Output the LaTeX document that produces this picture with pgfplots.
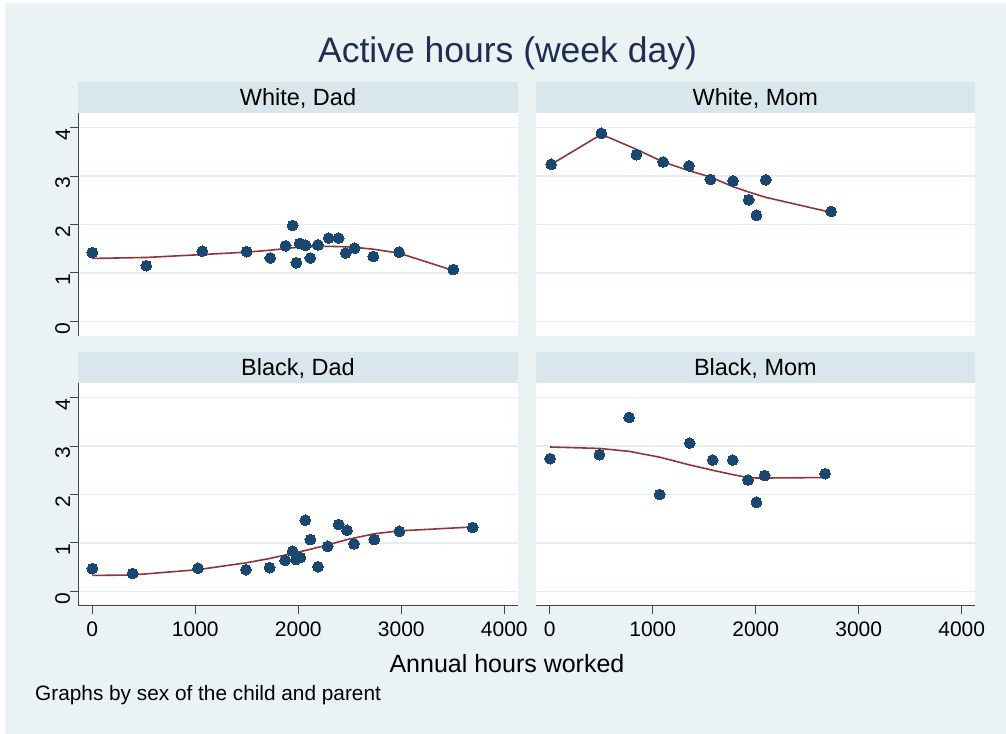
\documentclass[border=0pt]{standalone}
\usepackage{pgfplots}
\pgfplotsset{compat=1.18}
\usepackage{fontspec}
\setmainfont{Liberation Sans}
\definecolor{bg}{HTML}{EAF2F3}
\definecolor{hdr}{HTML}{D9E6EB}
\definecolor{grd}{HTML}{E5EEF1}
\definecolor{mk}{HTML}{1A476F}
\definecolor{ln}{HTML}{90353B}
\definecolor{ttl}{HTML}{1E2D53}
\definecolor{ax}{HTML}{444444}

\pgfplotsset{
  panel/.style={
    scale only axis, width=439.4bp, height=223bp,
    anchor=south west,
    xmin=-136, xmax=4130, ymin=-0.3, ymax=4.3,
    axis background/.style={fill=white},
    xtick={0,1000,2000,3000,4000}, ytick={0,1,2,3,4},
    ymajorgrids, grid style={grd, line width=1.6bp},
    axis x line*=bottom, axis y line*=left,
    axis line style={-, ax, line width=1bp},
    tick align=outside, major tick length=8bp,
    tick style={ax, line width=1bp},
    scaled x ticks=false,
    /pgf/number format/assume math mode=true,
    /pgf/number format/set thousands separator={},
    xticklabel style={font=\fontsize{21bp}{21bp}\selectfont, text=black, inner sep=0pt, yshift=-8bp},
    yticklabel style={font=\fontsize{21bp}{21bp}\selectfont, text=black, rotate=90, anchor=south, inner sep=0pt, xshift=-7bp},
    title style={at={(0.5,1)}, anchor=south, yshift=-6pt, fill=hdr, minimum width=439.4bp,
      minimum height=30.5bp, inner sep=0pt, text height=17.4bp, text depth=1bp,
      font=\fontsize{23.5bp}{23.5bp}\selectfont},
    clip=false,
  },
  noxaxis/.style={x axis line style={draw=none}, xtick style={draw=none}, xticklabels={}},
  noyaxis/.style={y axis line style={draw=none}, ytick style={draw=none}, yticklabels={}},
  pts/.style={only marks, mark=*, mark size=5.4bp, mark options={fill=mk, draw=mk, line width=0pt}},
  fit/.style={no marks, ln, line width=1.6bp},
}

\pgfplotstableread{
x y
0 1.42
524 1.15
1068 1.45
1499 1.44
1728 1.31
1877 1.56
1945 1.98
1981 1.21
2013 1.61
2071 1.57
2117 1.31
2191 1.58
2295 1.72
2392 1.72
2460 1.41
2547 1.51
2728 1.34
2978 1.43
3505 1.07
}\wdpts
\pgfplotstableread{
x y
0 1.30
524 1.32
1068 1.38
1499 1.43
1728 1.47
1945 1.52
2117 1.54
2295 1.55
2460 1.54
2547 1.53
2728 1.49
2978 1.41
3505 1.05
}\wdfit
\pgfplotstableread{
x y
14 3.24
502 3.88
842 3.44
1101 3.29
1353 3.21
1560 2.93
1780 2.90
1932 2.51
2007 2.19
2098 2.92
2732 2.27
}\wmpts
\pgfplotstableread{
x y
14 3.24
502 3.86
842 3.55
1101 3.29
1353 3.11
1560 2.98
1780 2.78
1932 2.67
2007 2.62
2098 2.56
2732 2.25
}\wmfit
\pgfplotstableread{
x y
0 0.47
392 0.37
1026 0.48
1492 0.45
1722 0.49
1871 0.64
1945 0.83
1977 0.66
2020 0.70
2068 1.47
2117 1.07
2191 0.51
2285 0.93
2392 1.38
2473 1.26
2541 0.98
2738 1.07
2981 1.24
3693 1.32
}\bdpts
\pgfplotstableread{
x y
0 0.33
392 0.34
1026 0.45
1492 0.59
1722 0.68
1871 0.75
1945 0.79
2020 0.82
2117 0.87
2285 0.96
2473 1.07
2738 1.19
2981 1.25
3693 1.33
}\bdfit
\pgfplotstableread{
x y
4 2.74
483 2.82
771 3.59
1068 2.00
1359 3.06
1583 2.71
1777 2.71
1926 2.30
2007 1.84
2087 2.39
2674 2.43
}\bmpts
\pgfplotstableread{
x y
4 2.98
483 2.95
771 2.89
1068 2.77
1359 2.61
1583 2.50
1777 2.41
1926 2.35
2007 2.34
2087 2.34
2674 2.35
}\bmfit

\begin{document}
\begin{tikzpicture}
\useasboundingbox (0,0) rectangle (1006bp,734bp);
\fill[white] (0,0) rectangle (1006bp,734bp);
\fill[bg] (5bp,0) rectangle (1006bp,731bp);

\node[anchor=base, text=ttl, font=\fontsize{35.5bp}{35.5bp}\selectfont, inner sep=0pt] at (507.5bp,671bp) {Active hours (week day)};

\begin{axis}[panel, noxaxis, at={(78.3bp,398bp)}, title={White, Dad}]
\addplot[fit] table {\wdfit};
\addplot[pts] table {\wdpts};
\end{axis}

\begin{axis}[panel, noxaxis, noyaxis, at={(535.7bp,398bp)}, title={White, Mom}]
\addplot[fit] table {\wmfit};
\addplot[pts] table {\wmpts};
\end{axis}

\begin{axis}[panel, at={(78.3bp,128bp)}, title={Black, Dad}]
\addplot[fit] table {\bdfit};
\addplot[pts] table {\bdpts};
\end{axis}

\begin{axis}[panel, noyaxis, at={(535.7bp,128bp)}, title={Black, Mom}]
\addplot[fit] table {\bmfit};
\addplot[pts] table {\bmpts};
\end{axis}

\node[anchor=base, font=\fontsize{25bp}{25bp}\selectfont, inner sep=0pt] at (507bp,61bp) {Annual hours worked};
\node[anchor=base west, font=\fontsize{20.8bp}{20.8bp}\selectfont, inner sep=0pt] at (35bp,34bp) {Graphs by sex of the child and parent};
\end{tikzpicture}
\end{document}
